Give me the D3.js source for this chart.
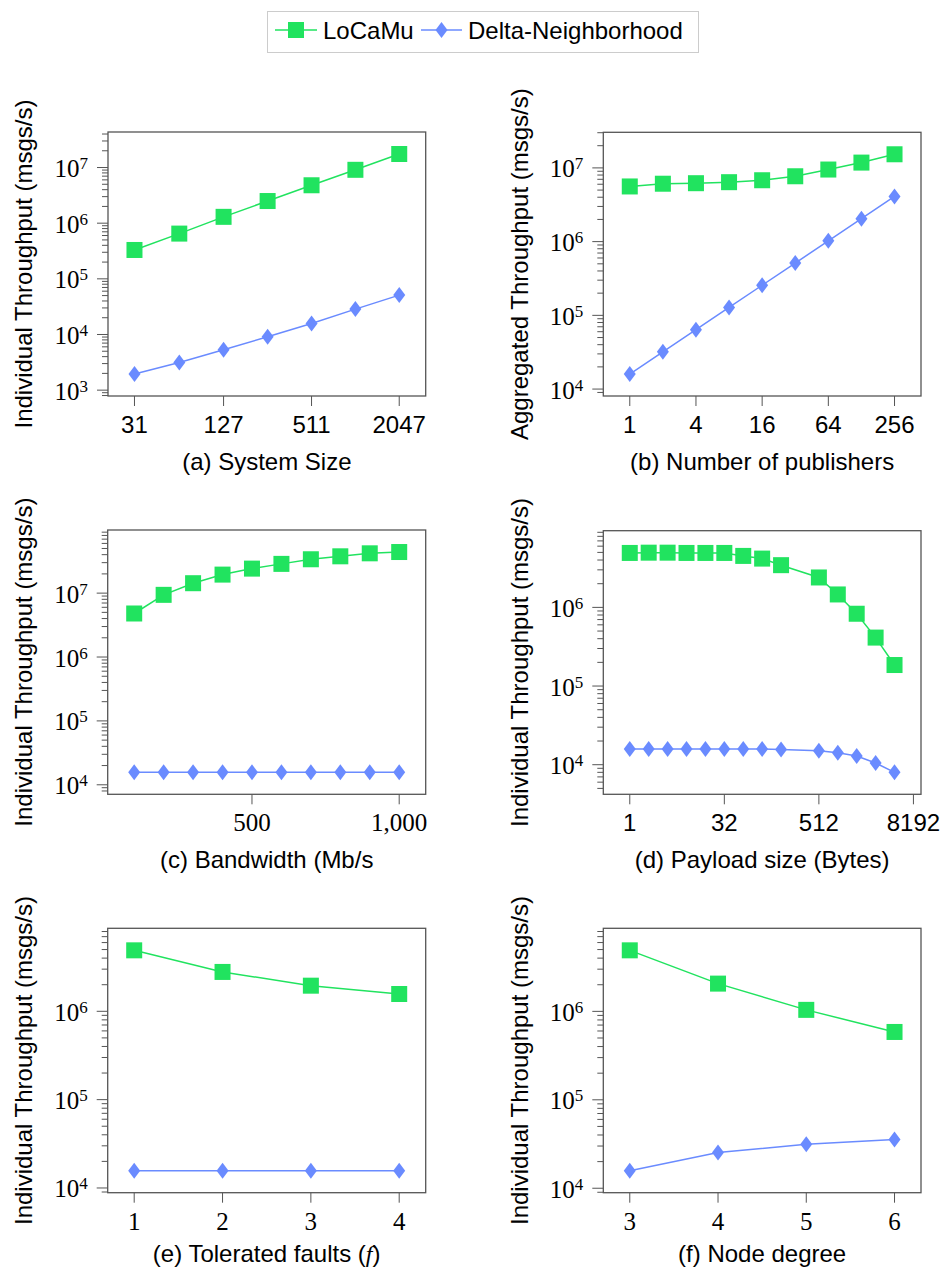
<!DOCTYPE html>
<html>
<head>
<meta charset="utf-8">
<script src="https://cdn.jsdelivr.net/npm/d3@7"></script>
<style>
  body { margin: 0; background: #fff; }
  svg { display: block; }
</style>
</head>
<body>
<div id="viz"></div>
<script>
// Series names
const seriesNames = ['LoCaMu', 'Delta-Neighborhood'];

// (a) System size
const sizeA = [31, 63, 127, 255, 511, 1023, 2047];
const locamuA = [330000, 650000, 1300000, 2500000, 4800000, 9100000, 17500000];
const deltaA = [1950, 3150, 5300, 9100, 15800, 28600, 51000];
const ticksA = [31, 127, 511, 2047];

// (b) Number of publishers
const pubsB = [1, 2, 4, 8, 16, 32, 64, 128, 256];
const locamuB = [5600000, 6100000, 6200000, 6400000, 6800000, 7700000, 9500000, 11800000, 15300000];
const deltaB = [16000, 32000, 64000, 128000, 256000, 512000, 1024000, 2048000, 4096000];
const ticksB = [1, 4, 16, 64, 256];

// (c) Bandwidth
const bwC = [100, 200, 300, 400, 500, 600, 700, 800, 900, 1000];
const locamuC = [4800000, 9400000, 14300000, 19500000, 24200000, 28700000, 33900000, 37700000, 42000000, 44000000];
const deltaC = [15700, 15700, 15700, 15700, 15700, 15700, 15700, 15700, 15700, 15700];
const ticksC = [500, 1000];

// (d) Payload size
const payloadD = [1, 2, 4, 8, 16, 32, 64, 128, 256, 1024, 2048, 4096, 8192, 16384];
const locamuD = [4920000, 4960000, 4960000, 4920000, 4920000, 4920000, 4510000, 4170000, 3440000, 2400000, 1460000, 830000, 413000, 185000];
const deltaD = [15800, 15800, 15800, 15800, 15800, 15800, 15800, 15800, 15600, 15000, 14200, 12900, 10500, 8000];
const ticksD = [1, 32, 1024, 32768];
const tickLabelsD = ['1', '32', '512', '8192'];

// (e) Tolerated faults
const faultsE = [1, 2, 3, 4];
const locamuE = [4900000, 2790000, 1950000, 1570000];
const deltaE = [15700, 15700, 15700, 15700];
const ticksE = [1, 2, 3, 4];

// (f) Node degree
const degreeF = [3, 4, 5, 6];
const locamuF = [4900000, 2060000, 1040000, 585000];
const deltaF = [15800, 25300, 31500, 35500];
const ticksF = [3, 4, 5, 6];

// Styles
const colors = ['#21e35f', '#6a8bff'];
const sans = '"Liberation Sans", Arial, Helvetica, sans-serif';
const serif = '"Liberation Serif", "Times New Roman", serif';
const axisColor = '#555';

const svg = d3.select('#viz')
  .append('svg')
  .attr('width', 944)
  .attr('height', 1270);

svg.append('rect').attr('width', 944).attr('height', 1270).attr('fill', '#fff');

// Legend
const legend = svg.append('g');
legend.append('rect')
  .attr('x', 267.5).attr('y', 11.5)
  .attr('width', 431).attr('height', 41)
  .attr('fill', '#fff').attr('stroke', '#ccc');
[{ x0: 275, x1: 317, tx: 323 }, { x0: 421, x1: 462, tx: 468 }].forEach((l, i) => {
  legend.append('line')
    .attr('x1', l.x0).attr('x2', l.x1)
    .attr('y1', 30).attr('y2', 30)
    .attr('stroke', colors[i]).attr('stroke-width', 1.5);
  drawMarker(legend, i, (l.x0 + l.x1) / 2, 30);
  legend.append('text')
    .attr('x', l.tx).attr('y', 38.5)
    .attr('font-family', sans).attr('font-size', 24)
    .text(seriesNames[i]);
});

function drawMarker(g, i, cx, cy) {
  if (i === 0) {
    g.append('rect')
      .attr('x', cx - 8).attr('y', cy - 8)
      .attr('width', 16).attr('height', 16)
      .attr('fill', colors[0]);
  } else {
    g.append('path')
      .attr('d', `M${cx},${cy - 8}L${cx + 6},${cy}L${cx},${cy + 8}L${cx - 6},${cy}Z`)
      .attr('fill', colors[1]);
  }
}

// 10% enlarged domain, like pgfplots
function enlarge(lo, hi) {
  const pad = (hi - lo) * 0.1;
  return [lo - pad, hi + pad];
}

function drawPanel(p) {
  const g = svg.append('g');
  const { x0, y0, x1, y1 } = p.box;

  // x scale
  let x;
  if (p.xLog) {
    const [a, b] = enlarge(Math.log2(d3.min(p.xs)), Math.log2(d3.max(p.xs)));
    x = d3.scaleLog().base(2).domain([2 ** a, 2 ** b]).range([x0, x1]);
  } else {
    const [a, b] = enlarge(d3.min(p.xs), d3.max(p.xs));
    x = d3.scaleLinear().domain([a, b]).range([x0, x1]);
  }

  // y scale (log10)
  const all = p.ys.flat();
  const [lo, hi] = enlarge(Math.log10(d3.min(all)), Math.log10(d3.max(all)));
  const y = d3.scaleLog().domain([10 ** lo, 10 ** hi]).range([y1, y0]);

  // y ticks: minor and major
  for (let e = Math.floor(lo); e <= Math.ceil(hi); e++) {
    for (let m = 1; m <= 9; m++) {
      const v = m * 10 ** e;
      if (Math.log10(v) < lo || Math.log10(v) > hi) continue;
      const ty = y(v);
      g.append('line')
        .attr('x1', x0 - (m === 1 ? 11 : 6)).attr('x2', x0)
        .attr('y1', ty).attr('y2', ty)
        .attr('stroke', axisColor).attr('stroke-width', 1);
      if (m === 1) {
        const t = g.append('text')
          .attr('x', x0 - 20).attr('y', ty + 9.5)
          .attr('text-anchor', 'end')
          .attr('font-family', serif);
        t.append('tspan').attr('font-size', 25).text('10');
        t.append('tspan').attr('font-size', 17).attr('dy', -8).text(e);
      }
    }
  }

  // x ticks
  p.xTicks.forEach((v, i) => {
    const tx = x(v);
    g.append('line')
      .attr('x1', tx).attr('x2', tx)
      .attr('y1', y1).attr('y2', y1 + 10)
      .attr('stroke', axisColor).attr('stroke-width', 1);
    g.append('text')
      .attr('x', tx).attr('y', y1 + 37)
      .attr('text-anchor', 'middle')
      .attr('font-family', p.tickSerif ? serif : sans)
      .attr('font-size', p.tickSerif ? 25 : 24)
      .text(p.xTickLabels ? p.xTickLabels[i] : p.xFormat(v));
  });

  // frame
  g.append('rect')
    .attr('x', x0).attr('y', y0)
    .attr('width', x1 - x0).attr('height', y1 - y0)
    .attr('fill', 'none').attr('stroke', axisColor).attr('stroke-width', 1.3);

  // titles
  g.append('text')
    .attr('transform', `translate(${p.yTitleX},${(y0 + y1) / 2}) rotate(-90)`)
    .attr('text-anchor', 'middle')
    .attr('font-family', sans).attr('font-size', 24)
    .text(p.yTitle);
  const xt = g.append('text')
    .attr('x', (x0 + x1) / 2).attr('y', y1 + p.titleOffset)
    .attr('text-anchor', 'middle')
    .attr('font-family', sans).attr('font-size', 24);
  p.xTitle.forEach(part => {
    const s = xt.append('tspan').text(part.t);
    if (part.italic) s.attr('font-family', serif).attr('font-style', 'italic');
  });

  // lines + markers
  p.ys.forEach((vals, i) => {
    const line = d3.line().x((d, j) => x(p.xs[j])).y(d => y(d));
    g.append('path')
      .datum(vals)
      .attr('d', line)
      .attr('fill', 'none')
      .attr('stroke', colors[i]).attr('stroke-width', 1.5);
    vals.forEach((v, j) => drawMarker(g, i, x(p.xs[j]), y(v)));
  });
}

const plain = d3.format('d');
const comma = d3.format(',');

drawPanel({
  box: { x0: 108, y0: 132, x1: 425.7, y1: 396 },
  xs: sizeA, xLog: true, ys: [locamuA, deltaA],
  xTicks: ticksA, xFormat: plain, tickSerif: false,
  yTitle: 'Individual Throughput (msgs/s)', yTitleX: 32,
  xTitle: [{ t: '(a) System Size' }], titleOffset: 74
});
drawPanel({
  box: { x0: 603.3, y0: 132.3, x1: 921, y1: 396 },
  xs: pubsB, xLog: true, ys: [locamuB, deltaB],
  xTicks: ticksB, xFormat: plain, tickSerif: false,
  yTitle: 'Aggregated Throughput (msgs/s)', yTitleX: 527.5,
  xTitle: [{ t: '(b) Number of publishers' }], titleOffset: 74
});
drawPanel({
  box: { x0: 107.7, y0: 530, x1: 425.7, y1: 794.3 },
  xs: bwC, xLog: false, ys: [locamuC, deltaC],
  xTicks: ticksC, xFormat: comma, tickSerif: true,
  yTitle: 'Individual Throughput (msgs/s)', yTitleX: 32,
  xTitle: [{ t: '(c) Bandwidth (Mb/s' }], titleOffset: 74
});
drawPanel({
  box: { x0: 603.3, y0: 530.7, x1: 921, y1: 794.3 },
  xs: payloadD, xLog: true, ys: [locamuD, deltaD],
  xTicks: ticksD, xTickLabels: tickLabelsD, tickSerif: false,
  yTitle: 'Individual Throughput (msgs/s)', yTitleX: 527.5,
  xTitle: [{ t: '(d) Payload size (Bytes)' }], titleOffset: 74
});
drawPanel({
  box: { x0: 107.7, y0: 928.3, x1: 425.7, y1: 1192.7 },
  xs: faultsE, xLog: false, ys: [locamuE, deltaE],
  xTicks: ticksE, xFormat: plain, tickSerif: true,
  yTitle: 'Individual Throughput (msgs/s)', yTitleX: 32,
  xTitle: [{ t: '(e) Tolerated faults (' }, { t: 'f', italic: true }, { t: ')' }], titleOffset: 69
});
drawPanel({
  box: { x0: 603.3, y0: 928.3, x1: 921, y1: 1192.7 },
  xs: degreeF, xLog: false, ys: [locamuF, deltaF],
  xTicks: ticksF, xFormat: plain, tickSerif: true,
  yTitle: 'Individual Throughput (msgs/s)', yTitleX: 527.5,
  xTitle: [{ t: '(f) Node degree' }], titleOffset: 69
});
</script>
</body>
</html>
